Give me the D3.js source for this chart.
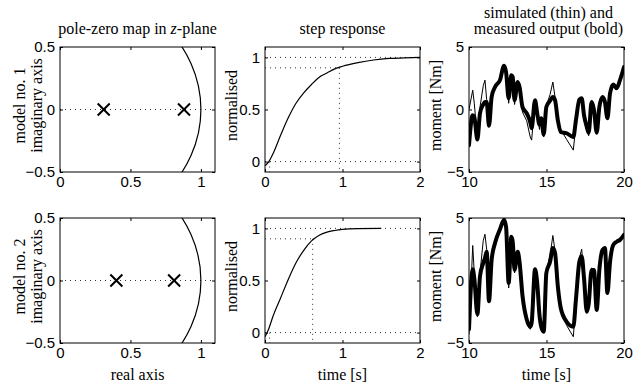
<!DOCTYPE html>
<html>
<head>
<meta charset="utf-8">
<script src="https://cdn.jsdelivr.net/npm/d3@7"></script>
<style>
  body { margin: 0; background: #fff; }
  svg { display: block; }
  .serif { font-family: "Liberation Serif", "Times New Roman", Times, serif; font-size: 16px; fill: #000; }
  .tick text { font-family: "Liberation Sans", Arial, Helvetica, sans-serif; font-size: 15px; fill: #000; }
  .tick line { stroke: #000; }
</style>
</head>
<body>
<div id="chart"></div>
<script>
// ---- data ----
var poles1 = [0.31, 0.88];
var poles2 = [0.40, 0.81];

var stepT1 = [0, 0.05, 0.1, 0.2, 0.3, 0.4, 0.5, 0.6, 0.7, 0.8, 0.9, 1.0, 1.2, 1.4, 1.6, 1.8, 2.0];
var stepY1 = [-0.04, 0.0, 0.07, 0.25, 0.42, 0.56, 0.66, 0.74, 0.81, 0.85, 0.89, 0.915, 0.95, 0.975, 0.99, 0.995, 1.0];
var stepT2 = [0, 0.05, 0.1, 0.2, 0.3, 0.4, 0.5, 0.6, 0.7, 0.8, 0.9, 1.0, 1.2, 1.5];
var stepY2 = [-0.04, 0.04, 0.15, 0.33, 0.51, 0.67, 0.79, 0.88, 0.935, 0.965, 0.98, 0.99, 0.998, 1.0];
var rise1 = 0.96, rise2 = 0.615, dead1 = 0.06, dead2 = 0.06;

var simT = [10.0, 10.24, 10.34, 10.54, 10.71, 10.92, 11.03, 11.14, 11.29, 11.46, 11.68, 12.0, 12.26, 12.39,
  12.56, 12.73, 12.82, 12.94, 13.14, 13.26, 13.45, 13.72, 13.95, 14.04, 14.26, 14.4, 14.55, 14.66, 14.82,
  14.99, 15.23, 15.41, 15.55, 15.73, 15.92, 16.3, 16.73, 16.9, 17.12, 17.27, 17.42, 17.6, 17.72, 17.91,
  18.06, 18.24, 18.41, 18.62, 18.77, 18.93, 19.1, 19.31, 19.53, 19.74, 20.0];
var measured1 = [-2.85, -0.45, -0.6, -2.4, -0.3, 0.4, 0.6, 0.6, -1.3, 1.0, 1.8, 2.35, 3.5, 3.0,
  0.9, 2.75, 2.6, 0.75, 2.2, 1.8, 0.2, -0.3, -1.0, -1.5, 0.75, -0.3, -1.2, -0.7, -2.0,
  0.2, 0.7, 1.0, 0.75, -0.85, -1.8, -1.9, -2.2, -0.85, 0.8, 0.9, -0.45, -1.4, -1.85, 0.6,
  0.0, -1.85, 0.2, 1.0, 0.6, -0.7, 1.3, 2.0, 1.7, 2.35, 3.4];
var simulated1 = [0.0, 1.55, 0.5, -2.3, 0.2, 1.9, 2.35, 0.8, -1.2, 1.0, 1.9, 2.5, 3.4, 2.8,
  0.5, 2.6, 2.4, 0.4, 2.2, 1.6, -0.2, -0.9, -2.2, -2.45, 0.6, -0.5, -1.6, -0.6, -2.2,
  0.3, 1.2, 2.2, 1.0, -1.0, -1.6, -2.4, -3.25, -1.2, 0.8, 1.0, -0.4, -1.3, -2.1, 0.6,
  0.1, -1.8, 0.3, 1.1, 0.7, -0.6, 1.4, 2.0, 1.8, 2.4, 3.4];
var measured2 = [-3.9, 0.9, 0.2, -2.7, 0.35, 1.4, 1.8, 2.3, -1.65, 1.65, 3.0, 4.1, 4.85, 4.3,
  -0.2, 3.5, 3.1, 0.85, 2.3, 1.5, -1.2, -3.1, -3.7, -3.4, 0.9, -0.2, -2.8, -3.7, -4.1,
  0.6, 1.5, 2.6, 2.2, -0.45, -2.2, -3.3, -3.7, -1.5, 1.5, 1.95, 0.2, -2.5, -1.9, 0.85,
  0.85, -2.35, 0.85, 2.45, 2.6, -1.0, 1.5, 2.85, 3.1, 3.25, 3.65];
var simulated2 = [-4.3, 2.8, 0.6, -2.9, 0.6, 3.2, 3.7, 2.5, -1.6, 1.8, 3.0, 4.1, 4.9, 4.2,
  -0.6, 3.6, 3.2, 0.6, 2.4, 1.4, -1.3, -3.3, -3.9, -3.6, 1.0, -0.3, -3.0, -3.9, -4.2,
  0.8, 2.0, 3.6, 2.4, -0.6, -2.4, -3.6, -4.5, -1.7, 1.8, 2.5, 0.3, -2.4, -2.0, 1.0,
  0.9, -2.2, 1.0, 2.5, 2.7, -0.9, 1.6, 2.9, 3.1, 3.2, 3.65];

var xTicks = [[0, 0.5, 1], [0, 1, 2], [10, 15, 20]];
var yTicks = [[-0.5, 0, 0.5], [0, 0.5, 1], [-5, 0, 5]];
var xDomains = [[0, 1.1], [0, 2], [10, 20]];
var yDomains = [[-0.5, 0.5], [-0.1, 1.1], [-5, 5]];
var rowLabels = ["model no. 1", "model no. 2"];

// ---- layout ----
var width = 640, height = 386;
var cols = [[60, 215], [265, 420], [469, 624]];
var rows = [[47, 172], [218, 343]];

var svg = d3.select("#chart").append("svg")
  .attr("width", width)
  .attr("height", height);

function panel(r, c) {
  var xs = d3.scaleLinear().domain(xDomains[c]).range(cols[c]);
  var ys = d3.scaleLinear().domain(yDomains[c]).range([rows[r][1], rows[r][0]]);
  var g = svg.append("g");
  var id = "clip" + r + c;
  svg.append("clipPath").attr("id", id).append("rect")
    .attr("x", cols[c][0]).attr("y", rows[r][0])
    .attr("width", cols[c][1] - cols[c][0]).attr("height", rows[r][1] - rows[r][0]);
  var plot = g.append("g").attr("clip-path", "url(#" + id + ")");

  g.append("g").attr("transform", "translate(0," + rows[r][1] + ")")
    .call(d3.axisBottom(xs).tickValues(xTicks[c]).tickSize(-3).tickPadding(4).tickFormat(d3.format("")));
  g.append("g").attr("transform", "translate(0," + rows[r][0] + ")")
    .call(d3.axisTop(xs).tickValues(xTicks[c]).tickSize(-3).tickFormat(""));
  g.append("g").attr("transform", "translate(" + cols[c][0] + ",0)")
    .call(d3.axisLeft(ys).tickValues(yTicks[c]).tickSize(-3).tickPadding(5).tickFormat(d3.format("")));
  g.append("g").attr("transform", "translate(" + cols[c][1] + ",0)")
    .call(d3.axisRight(ys).tickValues(yTicks[c]).tickSize(-3).tickFormat(""));
  g.selectAll(".domain").remove();

  g.append("rect")
    .attr("x", cols[c][0]).attr("y", rows[r][0])
    .attr("width", cols[c][1] - cols[c][0]).attr("height", rows[r][1] - rows[r][0])
    .attr("fill", "none").attr("stroke", "#000").attr("stroke-width", 1);

  return {xs: xs, ys: ys, plot: plot};
}

function dotted(p, x1, y1, x2, y2) {
  p.plot.append("line")
    .attr("x1", p.xs(x1)).attr("y1", p.ys(y1))
    .attr("x2", p.xs(x2)).attr("y2", p.ys(y2))
    .attr("stroke", "#333").attr("stroke-width", 1)
    .attr("stroke-dasharray", "1,4");
}

[0, 1].forEach(function(r) {
  // pole-zero map
  var p = panel(r, 0);
  dotted(p, 0, 0, 1.1, 0);
  p.plot.append("ellipse")
    .attr("cx", p.xs(0)).attr("cy", p.ys(0))
    .attr("rx", p.xs(1) - p.xs(0)).attr("ry", p.ys(0) - p.ys(1))
    .attr("fill", "none").attr("stroke", "#000").attr("stroke-width", 1.2);
  p.plot.selectAll("path.pole")
    .data(r === 0 ? poles1 : poles2)
    .enter().append("path")
    .attr("class", "pole")
    .attr("transform", function(d) { return "translate(" + p.xs(d) + "," + p.ys(0) + ")"; })
    .attr("d", "M-6,-6L6,6M6,-6L-6,6")
    .attr("stroke", "#000").attr("stroke-width", 2);

  // step response
  var q = panel(r, 1);
  var rise = r === 0 ? rise1 : rise2;
  var dead = r === 0 ? dead1 : dead2;
  dotted(q, 0, 1, 2, 1);
  dotted(q, 0, 0.9, rise, 0.9);
  dotted(q, 0, 0, 2, 0);
  dotted(q, rise, 0.9, rise, -0.1);
  dotted(q, dead, 0, dead, -0.1);
  var st = r === 0 ? stepT1 : stepT2;
  var sy = r === 0 ? stepY1 : stepY2;
  q.plot.append("path")
    .datum(st.map(function(t, i) { return [t, sy[i]]; }))
    .attr("fill", "none").attr("stroke", "#000").attr("stroke-width", 1.2)
    .attr("d", d3.line().x(function(d) { return q.xs(d[0]); }).y(function(d) { return q.ys(d[1]); })
      .curve(d3.curveMonotoneX));

  // simulated vs measured
  var m = panel(r, 2);
  var meas = r === 0 ? measured1 : measured2;
  var sim = r === 0 ? simulated1 : simulated2;
  var line = d3.line().x(function(d) { return m.xs(d[0]); }).y(function(d) { return m.ys(d[1]); });
  m.plot.append("path")
    .datum(simT.map(function(t, i) { return [t, sim[i]]; }))
    .attr("fill", "none").attr("stroke", "#000").attr("stroke-width", 1)
    .attr("d", line);
  m.plot.append("path")
    .datum(simT.map(function(t, i) { return [t, meas[i]]; }))
    .attr("fill", "none").attr("stroke", "#000").attr("stroke-width", 4)
    .attr("stroke-linejoin", "round").attr("stroke-linecap", "round")
    .attr("d", line.curve(d3.curveMonotoneX));

  // y labels
  var cy = (rows[r][0] + rows[r][1]) / 2 - 4;
  svg.append("text").attr("class", "serif")
    .attr("transform", "translate(25," + cy + ") rotate(-90)")
    .attr("text-anchor", "middle").text(rowLabels[r]);
  svg.append("text").attr("class", "serif")
    .attr("transform", "translate(42," + cy + ") rotate(-90)")
    .attr("text-anchor", "middle").text("imaginary axis");
  svg.append("text").attr("class", "serif")
    .attr("transform", "translate(237," + cy + ") rotate(-90)")
    .attr("text-anchor", "middle").text("normalised");
  svg.append("text").attr("class", "serif")
    .attr("transform", "translate(441," + cy + ") rotate(-90)")
    .attr("text-anchor", "middle").text("moment [Nm]");
});

// titles
var t1 = svg.append("text").attr("class", "serif")
  .attr("x", (cols[0][0] + cols[0][1]) / 2).attr("y", 34).attr("text-anchor", "middle");
t1.append("tspan").text("pole-zero map in ");
t1.append("tspan").attr("font-style", "italic").text("z");
t1.append("tspan").text("-plane");
svg.append("text").attr("class", "serif")
  .attr("x", (cols[1][0] + cols[1][1]) / 2).attr("y", 34).attr("text-anchor", "middle")
  .text("step response");
svg.append("text").attr("class", "serif")
  .attr("x", (cols[2][0] + cols[2][1]) / 2 + 2).attr("y", 18).attr("text-anchor", "middle")
  .text("simulated (thin) and");
svg.append("text").attr("class", "serif")
  .attr("x", (cols[2][0] + cols[2][1]) / 2 + 2).attr("y", 34).attr("text-anchor", "middle")
  .text("measured output (bold)");

// x labels
svg.append("text").attr("class", "serif")
  .attr("x", (cols[0][0] + cols[0][1]) / 2).attr("y", 380).attr("text-anchor", "middle")
  .text("real axis");
svg.append("text").attr("class", "serif")
  .attr("x", (cols[1][0] + cols[1][1]) / 2).attr("y", 380).attr("text-anchor", "middle")
  .text("time [s]");
svg.append("text").attr("class", "serif")
  .attr("x", (cols[2][0] + cols[2][1]) / 2).attr("y", 380).attr("text-anchor", "middle")
  .text("time [s]");
</script>
</body>
</html>
